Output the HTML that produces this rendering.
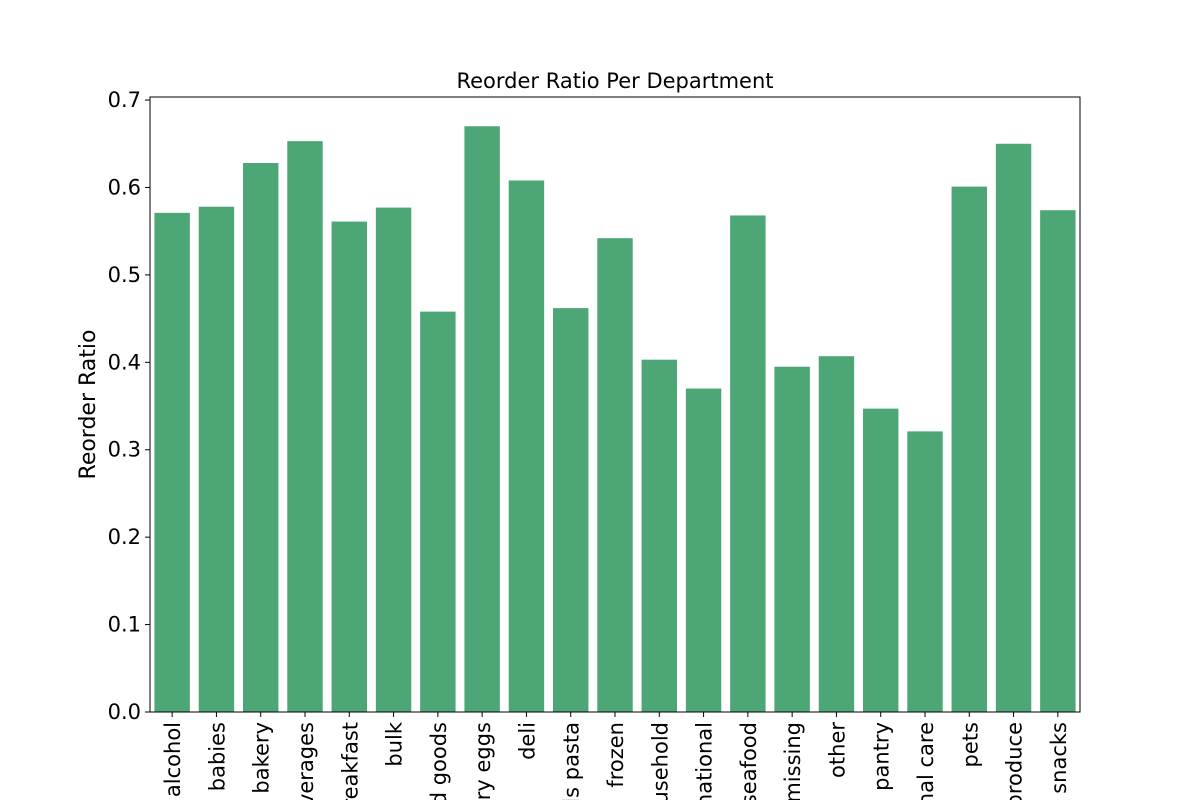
<!DOCTYPE html>
<html><head><meta charset="utf-8"><style>
html,body{margin:0;padding:0;background:#fff;width:1200px;height:800px;overflow:hidden;}
svg{display:block;overflow:hidden;font-family:"DejaVu Sans","Liberation Sans",sans-serif;}
</style></head><body>
<svg id="chart" width="1200" height="800">
<defs><clipPath id="frameClip"><rect x="0" y="0" width="1200" height="800"/></clipPath></defs>
<g id="xlabels" clip-path="url(#frameClip)"></g>
</svg>
<script>
const categories=["alcohol","babies","bakery","beverages","breakfast","bulk","canned goods","dairy eggs","deli","dry goods pasta","frozen","household","international","meat seafood","missing","other","pantry","personal care","pets","produce","snacks"];
const values=[0.571,0.578,0.628,0.653,0.561,0.577,0.458,0.670,0.608,0.462,0.542,0.403,0.370,0.568,0.395,0.407,0.347,0.321,0.601,0.650,0.574];
const yTicks=[0,0.1,0.2,0.3,0.4,0.5,0.6,0.7];
const yTickLabels=["0.0","0.1","0.2","0.3","0.4","0.5","0.6","0.7"];

const NS="http://www.w3.org/2000/svg";
const svg=document.getElementById("chart");
const xg=document.getElementById("xlabels");
const L=150,R=1080,T=97,B=712;
const yMax=Math.max(...values)*1.05;
const n=categories.length;
const xs=i=>L+(i+0.5)*(R-L)/n;
const ys=v=>B-(v/yMax)*(B-T);
const bw=0.8*(R-L)/n;
function mk(tag,attrs,parent){const e=document.createElementNS(NS,tag);for(const k in attrs)e.setAttribute(k,attrs[k]);(parent||svg).appendChild(e);return e;}

values.forEach((v,i)=>{
  const r=mk("rect",{x:xs(i)-bw/2,y:ys(v),width:bw,height:B-ys(v),fill:"#4ca675"});
  
  
});
const frame=mk("rect",{x:L,y:T,width:R-L,height:B-T,fill:"none",stroke:"#000","stroke-width":1});



yTicks.forEach((t,i)=>{
  const y=ys(t);
  mk("line",{x1:L-5,x2:L,y1:y,y2:y,stroke:"#000"});
  const tx=mk("text",{x:L-9,y:y+7,"text-anchor":"end","font-size":21});
  tx.textContent=yTickLabels[i];
  
  
});
categories.forEach((c,i)=>{
  const x=xs(i);
  mk("line",{x1:x,x2:x,y1:B,y2:B+5,stroke:"#000"});
  const tx=mk("text",{x:0,y:0,"text-anchor":"end","font-size":21,transform:`translate(${x+8},${B+10}) rotate(-90)`},xg);
  tx.textContent=c;
  
  
});
const title=mk("text",{x:(L+R)/2,y:88,"text-anchor":"middle","font-size":21});
title.textContent="Reorder Ratio Per Department";


const yl=mk("text",{x:0,y:0,"text-anchor":"middle","font-size":22,transform:`translate(95,${(T+B)/2}) rotate(-90)`});
yl.textContent="Reorder Ratio";


</script>
</body></html>
